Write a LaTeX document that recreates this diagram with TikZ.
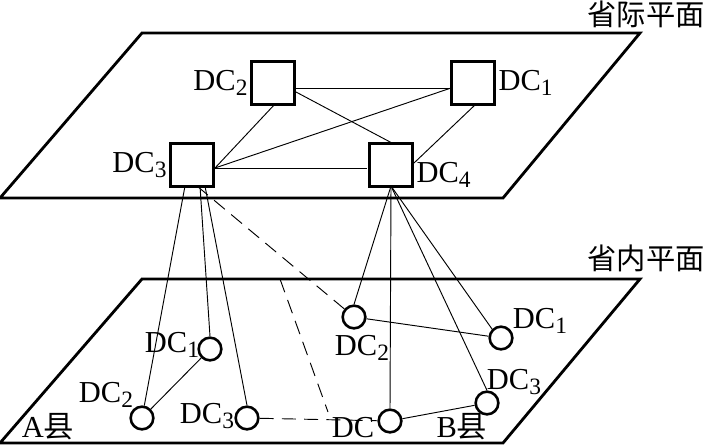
\documentclass[tikz,border=0pt]{standalone}
\usepackage{fontspec}
\setmainfont{Liberation Serif}
\newfontfamily\cjk{Noto Sans CJK SC}
\newcommand{\dcl}[1]{DC\raisebox{-0.4ex}{\fontsize{20}{20}\selectfont #1}}
\begin{document}
\begin{tikzpicture}[x=0.03cm,y=-0.03cm,
  plane/.style={line width=2.4pt,line join=miter},
  sq/.style={draw,line width=2.2pt,minimum size=1.3cm,inner sep=0pt},
  ci/.style={draw,circle,line width=2.2pt,minimum size=0.68cm,inner sep=0pt},
  lk/.style={line width=0.8pt},
  dl/.style={line width=0.8pt,dash pattern=on 12pt off 7pt},
  lab/.style={font=\fontsize{26}{28}\selectfont,inner sep=0pt},
  clab/.style={font=\fontsize{25}{27}\selectfont\cjk,inner sep=0pt}]
\useasboundingbox (0,0) rectangle (707,446);
% planes
\draw[plane] (142,33) -- (640,33) -- (503,198) -- (0,198) -- cycle;
\draw[plane] (142,279) -- (640,279) -- (503,443) -- (0,443) -- cycle;
\node[clab,anchor=north east] (t1) at (705,1) {省际平面};
\node[clab,anchor=north east] (t2) at (705,245) {省内平面};
% top squares
\node[sq] (s2) at (273,83) {};
\node[sq] (s1) at (473,83) {};
\node[sq] (s3) at (192,165) {};
\node[sq] (s4) at (391,165) {};
\node[lab,anchor=east] (l2) at ([xshift=-2pt]s2.west) {\dcl{2}};
\node[lab,anchor=west] (l1) at ([xshift=2pt]s1.east) {\dcl{1}};
\node[lab,anchor=east] (l3) at ([xshift=-2pt]s3.west) {\dcl{3}};
\node[lab,anchor=west] (l4) at ([xshift=2pt,yshift=-0.3cm]s4.east) {\dcl{4}};
\coordinate (s3e) at (215,168);
\draw[lk] (s2.east|-0,88) -- (s1.west|-0,88);
\draw[lk] (275,104) -- (s3e);
\draw[lk] (296,92) -- (392,143);
\draw[lk] (451,88) -- (s3e);
\draw[lk] (476,104) -- (414,163);
\draw[lk] (s3e) -- (367,168);
% lower circles
\node[ci] (r2) at (354,317) {};
\node[ci] (r1) at (501,338) {};
\node[ci] (a1) at (210,349) {};
\node[ci] (a2) at (142,418) {};
\node[ci] (a3) at (247,418) {};
\node[ci] (dc) at (390,421) {};
\node[ci] (r3) at (487,403) {};
\node[lab] (lr2) at (362,348) {\dcl{2}};
\node[lab] (lr1) at (540,321) {\dcl{1}};
\node[lab] (la1) at (172,345) {\dcl{1}};
\node[lab] (la2) at (106,395) {\dcl{2}};
\node[lab] (la3) at (207,416) {\dcl{3}};
\node[lab] (ldc) at (353,428) {DC};
\node[lab] (lr3) at (514,382) {\dcl{3}};
\node[lab] (la) at (48,427) {A{\cjk 县}};
\node[lab] (lb) at (462,427) {B{\cjk 县}};
% links between planes
\coordinate (s3b) at (197,186);
\coordinate (s4b) at (391,186);
\draw[lk] (185,186) -- (a2);
\draw[lk] (200,186) -- (a1.north);
\draw[lk] (205,186) -- (a3.north);
\draw[dl] (s3b) -- (r2);
\coordinate (h1) at (280,279);
\coordinate (h2) at (328,412);
\draw[dl] (h1) -- (h2);
\draw[lk] (s4b) -- (r2.north);
\draw[lk] (s4b) -- (dc.north);
\draw[lk] (s4b) -- (r3.north);
\draw[lk] (s4b) -- (r1.north west);
% lower links
\draw[lk] (r2) -- (r1);
\draw[lk] (a1) -- (a2);
\draw[lk] (dc) -- (r3);
\draw[dl] (a3) -- (dc);
\end{tikzpicture}
\end{document}
